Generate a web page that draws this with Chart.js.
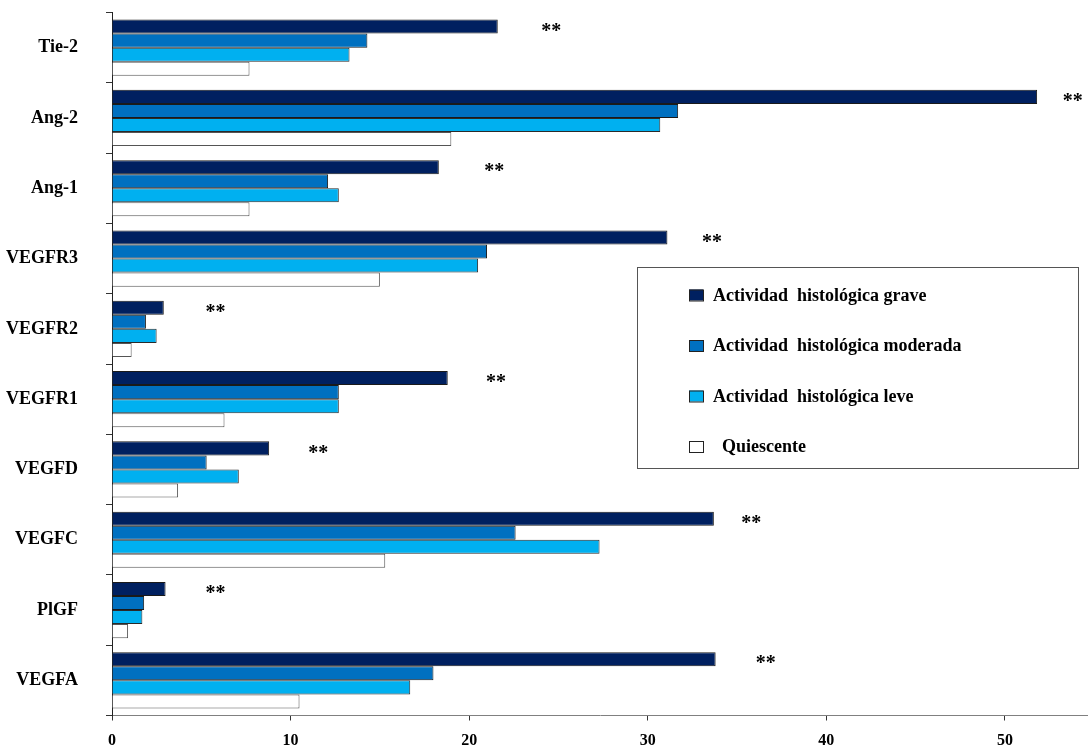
<!DOCTYPE html>
<html>
<head>
<meta charset="utf-8">
<script src="https://cdn.jsdelivr.net/npm/chart.js@4/dist/chart.umd.min.js"></script>
<style>
  html, body { margin: 0; padding: 0; background: #fff; }
  #wrap { width: 1088px; height: 749px; position: relative; }
</style>
</head>
<body>
<div id="wrap"><canvas id="c"></canvas></div>
<script>
// Factores angiogénicos por grado de actividad histológica
const categories = ['Tie-2', 'Ang-2', 'Ang-1', 'VEGFR3', 'VEGFR2', 'VEGFR1', 'VEGFD', 'VEGFC', 'PlGF', 'VEGFA'];
const seriesNames = ['Actividad  histológica grave', 'Actividad  histológica moderada', 'Actividad  histológica leve', '  Quiescente'];
const grave      = [21.6, 51.8, 18.3, 31.1, 2.9, 18.8, 8.8, 33.7, 3.0, 33.8];
const moderada   = [14.3, 31.7, 12.1, 21.0, 1.9, 12.7, 5.3, 22.6, 1.8, 18.0];
const leve       = [13.3, 30.7, 12.7, 20.5, 2.5, 12.7, 7.1, 27.3, 1.7, 16.7];
const quiescente = [7.7, 19.0, 7.7, 15.0, 1.1, 6.3, 3.7, 15.3, 0.9, 10.5];
// where the significance marks sit on the value axis
const markX = [24.6, 53.8, 21.4, 33.6, 5.8, 21.5, 11.55, 35.8, 5.8, 36.6];
const markText = '**';
const xTicks = [0, 10, 20, 30, 40, 50];

const SERIF = '"Liberation Serif", "Times New Roman", serif';

// significance asterisks beside the top bar of each group
const markPlugin = {
  id: 'marks',
  afterDatasetsDraw(chart) {
    const { ctx } = chart;
    const meta = chart.getDatasetMeta(0);
    const xs = chart.scales.x;
    ctx.save();
    ctx.font = 'bold 20px ' + SERIF;
    ctx.fillStyle = '#000';
    ctx.textAlign = 'center';
    ctx.textBaseline = 'middle';
    meta.data.forEach((bar, i) => {
      ctx.fillText(markText, xs.getPixelForValue(markX[i]), bar.y + 5);
    });
    ctx.restore();
  }
};

// boxed legend inside the plot area
const boxLegend = {
  id: 'boxLegend',
  afterDraw(chart, args, opts) {
    const { ctx } = chart;
    ctx.save();
    ctx.strokeStyle = '#555';
    ctx.lineWidth = 1;
    ctx.strokeRect(opts.x + 0.5, opts.y + 0.5, opts.w, opts.h);
    ctx.font = 'bold 18px ' + SERIF;
    ctx.textBaseline = 'middle';
    ctx.textAlign = 'left';
    chart.data.datasets.forEach((ds, i) => {
      const cy = opts.y + opts.first + i * opts.step;
      ctx.fillStyle = ds.backgroundColor;
      ctx.fillRect(opts.x + 52, cy - 5.5, 14, 11);
      ctx.strokeStyle = '#222';
      ctx.strokeRect(opts.x + 52.5, cy - 5, 14, 11);
      ctx.fillStyle = '#000';
      ctx.fillText(ds.label, opts.x + 76, cy + 1);
    });
    ctx.restore();
  }
};

new Chart(document.getElementById('c'), {
  type: 'bar',
  data: {
    labels: categories,
    datasets: [
      { label: seriesNames[0], data: grave,      backgroundColor: '#002060', borderColor: '#1a1a1a' },
      { label: seriesNames[1], data: moderada,   backgroundColor: '#0070C0', borderColor: '#1a1a1a' },
      { label: seriesNames[2], data: leve,       backgroundColor: '#00B0F0', borderColor: '#2a2a2a' },
      { label: seriesNames[3], data: quiescente, backgroundColor: '#FFFFFF', borderColor: '#555555' }
    ]
  },
  options: {
    indexAxis: 'y',
    responsive: true,
    maintainAspectRatio: false,
    animation: false,
    layout: { padding: { top: 12.5, right: 0, bottom: 0, left: 0 } },
    datasets: {
      bar: { borderWidth: 1, categoryPercentage: 0.8, barPercentage: 1.0 }
    },
    scales: {
      x: {
        min: 0,
        max: 54.65,
        afterBuildTicks(scale) {
          scale.ticks = xTicks.map(v => ({ value: v }));
        },
        afterFit(scale) {
          scale.height = 33.5;
          scale.paddingLeft = 0;
          scale.paddingRight = 0;
        },
        border: { display: true, color: '#808080', width: 1 },
        grid: { display: true, drawOnChartArea: false, drawTicks: true, tickLength: 5, color: '#333' },
        ticks: {
          color: '#000',
          padding: 11,
          maxRotation: 0,
          font: { family: SERIF, size: 16, weight: 'bold' }
        }
      },
      y: {
        afterFit(scale) {
          scale.width = 112;
          scale.paddingTop = 0;
          scale.paddingBottom = 0;
        },
        border: { display: true, color: '#222', width: 1 },
        grid: { display: true, drawOnChartArea: false, drawTicks: true, tickLength: 6, offset: true, color: '#333' },
        ticks: {
          color: '#000',
          padding: 28,
          font: { family: SERIF, size: 18, weight: 'bold' }
        }
      }
    },
    plugins: {
      legend: { display: false },
      tooltip: { enabled: false },
      boxLegend: { x: 637, y: 267, w: 441, h: 201, first: 28, step: 50.5 }
    }
  },
  plugins: [markPlugin, boxLegend]
});
</script>
</body>
</html>
